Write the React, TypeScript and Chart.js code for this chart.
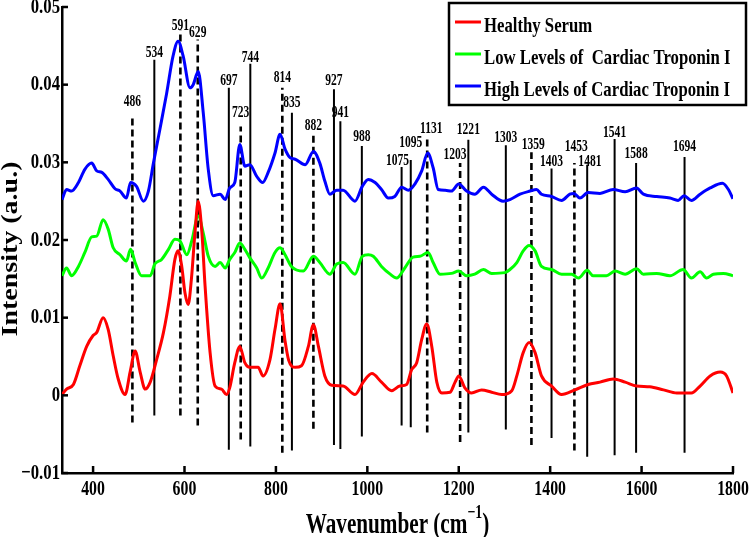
import React, { useEffect, useRef } from 'react';
import { Chart, registerables } from 'chart.js';

Chart.register(...registerables);

// ---- data ----
const healthyX = [332,342,357,371,386,400,408,422,433,444,455,470,481,492,503,514,525,539,554,568,579,586,594,601,608,615,623,630,638,645,656,667,681,692,699,710,721,732,743,761,772,787,798,809,820,828,842,856,871,882,893,907,922,947,973,991,1010,1031,1053,1071,1086,1097,1108,1119,1130,1141,1152,1163,1181,1192,1200,1213,1228,1250,1272,1294,1316,1327,1341,1354,1367,1381,1403,1425,1454,1483,1509,1538,1564,1589,1618,1648,1677,1691,1709,1728,1750,1772,1786,1800];
const healthyY = [0.0001,0.0008,0.0014,0.0038,0.0063,0.0077,0.0081,0.0100,0.0085,0.0051,0.0021,0.0001,0.0030,0.0057,0.0030,0.0008,0.0017,0.0046,0.0081,0.0128,0.0175,0.0186,0.0166,0.0132,0.0117,0.0149,0.0210,0.0250,0.0210,0.0141,0.0055,0.0012,0.0008,0.0001,0.0010,0.0042,0.0063,0.0042,0.0036,0.0036,0.0025,0.0046,0.0085,0.0118,0.0070,0.0045,0.0036,0.0038,0.0063,0.0091,0.0063,0.0025,0.0013,0.0012,0.0001,0.0017,0.0028,0.0017,0.0006,0.0012,0.0014,0.0033,0.0042,0.0072,0.0092,0.0063,0.0017,0.0003,0.0004,0.0017,0.0025,0.0010,0.0003,0.0007,0.0004,0.0001,0.0006,0.0025,0.0055,0.0068,0.0055,0.0025,0.0012,0.0001,0.0007,0.0014,0.0017,0.0021,0.0017,0.0012,0.0011,0.0007,0.0003,0.0003,0.0003,0.0012,0.0025,0.0030,0.0025,0.0003];

const lowX = [332,342,353,368,382,397,408,422,433,444,459,473,482,492,506,517,525,535,550,565,579,590,605,616,630,641,652,667,678,689,699,710,721,732,743,758,769,783,798,809,820,834,860,882,896,918,933,947,973,989,1002,1013,1031,1050,1064,1082,1100,1115,1133,1144,1159,1184,1200,1217,1235,1254,1272,1301,1312,1327,1341,1354,1367,1381,1403,1425,1447,1462,1481,1494,1523,1542,1564,1589,1604,1633,1662,1691,1709,1728,1742,1757,1779,1800];
const lowY = [0.0154,0.0164,0.0154,0.0166,0.0184,0.0204,0.0205,0.0226,0.0214,0.0190,0.0181,0.0173,0.0188,0.0171,0.0154,0.0154,0.0154,0.0169,0.0175,0.0188,0.0201,0.0199,0.0181,0.0199,0.0231,0.0209,0.0179,0.0166,0.0171,0.0164,0.0175,0.0184,0.0196,0.0188,0.0177,0.0164,0.0151,0.0164,0.0184,0.0190,0.0181,0.0166,0.0160,0.0179,0.0171,0.0156,0.0169,0.0171,0.0156,0.0179,0.0181,0.0179,0.0166,0.0156,0.0151,0.0164,0.0178,0.0179,0.0184,0.0171,0.0156,0.0157,0.0160,0.0154,0.0156,0.0162,0.0157,0.0158,0.0162,0.0171,0.0186,0.0193,0.0186,0.0166,0.0162,0.0156,0.0156,0.0151,0.0161,0.0154,0.0154,0.0160,0.0156,0.0163,0.0156,0.0157,0.0154,0.0162,0.0151,0.0159,0.0151,0.0156,0.0157,0.0154];

const highX = [332,342,353,368,382,397,408,419,433,448,459,473,482,495,510,521,532,546,561,575,586,597,612,619,630,641,652,663,678,689,699,710,721,732,743,758,771,783,798,809,820,831,842,864,882,896,907,918,933,947,973,989,1002,1017,1031,1046,1060,1075,1090,1104,1119,1132,1144,1155,1170,1184,1200,1217,1235,1254,1272,1297,1312,1334,1356,1370,1381,1403,1425,1443,1452,1465,1483,1509,1538,1564,1589,1604,1633,1662,1680,1693,1709,1728,1750,1777,1790,1800];
const highY = [0.0252,0.0265,0.0263,0.0274,0.0291,0.0299,0.0289,0.0287,0.0278,0.0266,0.0263,0.0254,0.0274,0.0269,0.0250,0.0263,0.0299,0.0342,0.0389,0.0437,0.0456,0.0437,0.0396,0.0400,0.0417,0.0364,0.0291,0.0257,0.0259,0.0252,0.0267,0.0274,0.0323,0.0295,0.0297,0.0282,0.0274,0.0287,0.0312,0.0336,0.0317,0.0306,0.0304,0.0297,0.0314,0.0299,0.0276,0.0259,0.0264,0.0264,0.0250,0.0269,0.0278,0.0274,0.0265,0.0254,0.0256,0.0268,0.0264,0.0272,0.0289,0.0312,0.0293,0.0265,0.0264,0.0263,0.0272,0.0263,0.0259,0.0268,0.0259,0.0250,0.0252,0.0259,0.0263,0.0265,0.0259,0.0256,0.0251,0.0259,0.0260,0.0254,0.0261,0.0260,0.0265,0.0262,0.0267,0.0259,0.0256,0.0254,0.0251,0.0257,0.0251,0.0259,0.0267,0.0273,0.0265,0.0253];

const seriesNames = ['Healthy Serum', 'Low Levels of  Cardiac Troponin I', 'High Levels of Cardiac Troponin I'];
const seriesColors = ['#ff0000', '#00ff00', '#0000ff'];

const peakPositions = [486,534,591,629,697,723,744,814,835,882,927,941,988,1075,1095,1131,1203,1221,1303,1359,1403,1453,1481,1541,1588,1694];
const peakLabels = peakPositions.map(String);
const peakDashed = [true,false,true,true,false,true,false,true,false,true,false,false,false,false,false,true,true,false,false,true,false,true,false,false,false,false];
const peakTops = [0.0361,0.0432,0.0470,0.0458,0.0396,0.0346,0.0427,0.0396,0.0364,0.0338,0.0394,0.0353,0.0321,0.0294,0.0303,0.0331,0.0299,0.0329,0.0322,0.0313,0.0292,0.0299,0.0297,0.0330,0.0299,0.0307];
const peakBottoms = [-0.0035,-0.0026,-0.0026,-0.0039,-0.0070,-0.0057,-0.0066,-0.0074,-0.0071,-0.0043,-0.0064,-0.0069,-0.0053,-0.0039,-0.0041,-0.0048,-0.0060,-0.0048,-0.0044,-0.0064,-0.0055,-0.0071,-0.0079,-0.0077,-0.0074,-0.0074];
// label baseline heights (intensity units)
const peakLabelLevels = [0.0372,0.0435,0.0470,0.0462,0.0399,0.0358,0.0429,0.0404,0.0371,0.0341,0.0399,0.0358,0.0327,0.0297,0.0320,0.0338,0.0304,0.0336,0.0326,0.0317,0.0295,0.0314,0.0295,0.0332,0.0306,0.0315];
// label centre wavenumbers
const peakLabelCenters = [486,534,591,629,697,723,744,814,835,882,927,941,988,1066,1095,1140,1192,1221,1303,1363,1403,1457,1487,1541,1588,1694];

const xTicks = [400, 600, 800, 1000, 1200, 1400, 1600, 1800];
const yTicks = [-0.01, 0, 0.01, 0.02, 0.03, 0.04, 0.05];
const xTitle = 'Wavenumber (cm';
const xTitleSup = '\u22121';
const yTitle = 'Intensity (a.u.)';

const FONT = '"Liberation Serif", "Times New Roman", serif';

function drawSqueezed(ctx: CanvasRenderingContext2D, text: string, x: number, y: number, sx: number, align: CanvasTextAlign, baseline: CanvasTextBaseline) {
  ctx.save();
  ctx.translate(x, y);
  ctx.scale(sx, 1);
  ctx.textAlign = align;
  ctx.textBaseline = baseline;
  ctx.fillText(text, 0, 0);
  ctx.restore();
}

const decor = {
  id: 'decor',
  afterDraw(chart: any) {
    const ctx: CanvasRenderingContext2D = chart.ctx;
    const xs = chart.scales.x;
    const ys = chart.scales.y;
    const area = chart.chartArea;
    ctx.save();
    ctx.fillStyle = '#000';
    ctx.strokeStyle = '#000';

    // inward tick marks
    ctx.lineWidth = 2.5;
    yTicks.forEach((v) => {
      const py = ys.getPixelForValue(v);
      ctx.beginPath();
      ctx.moveTo(area.left, py);
      ctx.lineTo(area.left + 6, py);
      ctx.stroke();
    });
    xTicks.forEach((v) => {
      const px = xs.getPixelForValue(v);
      ctx.beginPath();
      ctx.moveTo(px, area.bottom);
      ctx.lineTo(px, area.bottom - 7);
      ctx.stroke();
    });

    // tick labels
    ctx.font = `bold 22px ${FONT}`;
    yTicks.forEach((v) => {
      const py = ys.getPixelForValue(v);
      const label = v === 0 ? '0' : (v < 0 ? '\u2212' : '') + Math.abs(v).toFixed(2);
      drawSqueezed(ctx, label, area.left - 2, py, 0.76, 'right', 'middle');
    });
    xTicks.forEach((v) => {
      const px = xs.getPixelForValue(v);
      drawSqueezed(ctx, String(v), px, area.bottom + 5, 0.72, 'center', 'top');
    });

    // peak labels
    ctx.font = `bold 17px ${FONT}`;
    peakLabels.forEach((lab, i) => {
      const px = xs.getPixelForValue(peakLabelCenters[i]);
      const py = ys.getPixelForValue(peakLabelLevels[i]);
      drawSqueezed(ctx, lab, px, py, 0.68, 'center', 'alphabetic');
    });

    // x title with superscript
    const sx = 0.73;
    ctx.font = `bold 29px ${FONT}`;
    const w1 = ctx.measureText(xTitle).width;
    const w3 = ctx.measureText(')').width;
    ctx.font = `bold 19px ${FONT}`;
    const w2 = ctx.measureText(xTitleSup).width;
    const total = (w1 + w2 + w3) * sx;
    let cx = (area.left + area.right) / 2 - total / 2;
    const base = 533;
    ctx.font = `bold 29px ${FONT}`;
    drawSqueezed(ctx, xTitle, cx, base, sx, 'left', 'alphabetic');
    cx += w1 * sx;
    ctx.font = `bold 19px ${FONT}`;
    drawSqueezed(ctx, xTitleSup, cx, base - 15, sx, 'left', 'alphabetic');
    cx += w2 * sx;
    ctx.font = `bold 29px ${FONT}`;
    drawSqueezed(ctx, ')', cx, base, sx, 'left', 'alphabetic');

    // y title
    ctx.save();
    ctx.translate(17, 249);
    ctx.rotate(-Math.PI / 2);
    ctx.scale(1, 0.8);
    ctx.font = `bold 28px ${FONT}`;
    ctx.textAlign = 'center';
    ctx.textBaseline = 'alphabetic';
    ctx.fillText(yTitle, 0, 0);
    ctx.restore();

    // legend
    const lx = 449, ly = 3, lw = 297, lh = 102;
    ctx.fillStyle = '#fff';
    ctx.fillRect(lx, ly, lw, lh);
    ctx.lineWidth = 2.5;
    ctx.strokeStyle = '#000';
    ctx.strokeRect(lx, ly, lw, lh);
    const rows = [22, 54, 86];
    ctx.font = `bold 22px ${FONT}`;
    seriesNames.forEach((name, i) => {
      ctx.strokeStyle = seriesColors[i];
      ctx.lineWidth = 3;
      ctx.beginPath();
      ctx.moveTo(455, rows[i]);
      ctx.lineTo(481, rows[i]);
      ctx.stroke();
      ctx.fillStyle = '#000';
      drawSqueezed(ctx, name, 484, rows[i] + 9.5, 0.76, 'left', 'alphabetic');
    });
    ctx.restore();
  },
};

export default function App() {
  const ref = useRef<HTMLCanvasElement>(null);
  useEffect(() => {
    const curves = [
      [healthyX, healthyY],
      [lowX, lowY],
      [highX, highY],
    ].map(([xs, ys], i) => ({
      label: seriesNames[i],
      data: xs.map((x, j) => ({ x, y: ys[j] })),
      borderColor: seriesColors[i],
      backgroundColor: seriesColors[i],
      borderWidth: 3,
      pointRadius: 0,
      cubicInterpolationMode: 'monotone' as const,
      fill: false,
    }));
    const peaks = peakPositions.map((p, i) => ({
      label: peakLabels[i],
      data: [
        { x: p, y: peakBottoms[i] },
        { x: p, y: peakTops[i] },
      ],
      borderColor: '#000',
      borderWidth: peakDashed[i] ? 2.6 : 2,
      borderDash: peakDashed[i] ? [7, 4] : [],
      pointRadius: 0,
      fill: false,
    }));
    const chart = new Chart(ref.current as HTMLCanvasElement, {
      type: 'line',
      data: { datasets: [...curves, ...peaks] as any },
      options: {
        animation: false,
        responsive: true,
        maintainAspectRatio: false,
        devicePixelRatio: 1,
        layout: { padding: { top: 7, right: 16, left: 0, bottom: 0 } },
        plugins: { legend: { display: false }, tooltip: { enabled: false } },
        scales: {
          x: {
            type: 'linear',
            min: 332,
            max: 1800,
            ticks: { display: false },
            grid: { display: false },
            border: { display: true, color: '#000', width: 2.5 },
            afterFit: (s: any) => { s.height = 64; },
          },
          y: {
            type: 'linear',
            min: -0.01,
            max: 0.05,
            ticks: { display: false },
            grid: { display: false },
            border: { display: true, color: '#000', width: 2.5 },
            afterFit: (s: any) => { s.width = 62; },
          },
        },
      },
      plugins: [decor],
    });
    return () => chart.destroy();
  }, []);
  return (
    <div style={{ position: 'absolute', left: 0, top: 0, width: 749, height: 537, background: '#fff' }}>
      <canvas ref={ref} />
    </div>
  );
}
